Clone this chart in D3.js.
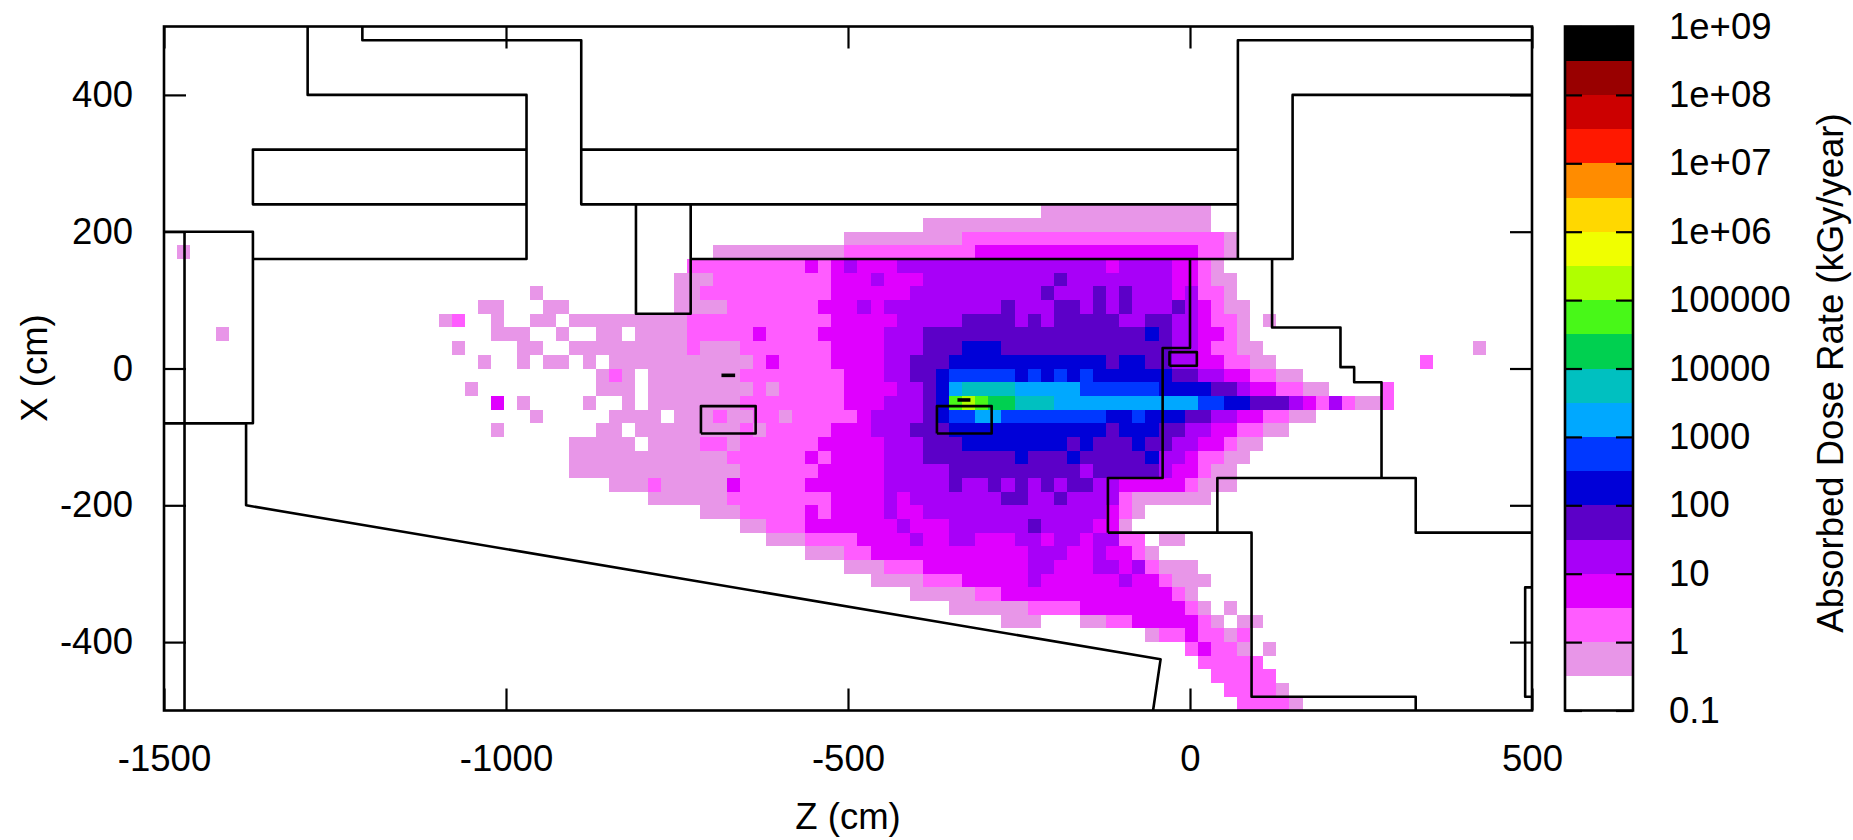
<!DOCTYPE html>
<html>
<head>
<meta charset="utf-8">
<style>
body { margin: 0; background: #fff; }
text { font-family: "Liberation Sans", Arial, sans-serif; font-size: 36.5px; fill: #000; }
</style>
<script src="https://cdn.jsdelivr.net/npm/d3@7"></script>
</head>
<body>
<svg id="chart" width="1853" height="840"></svg>
<script>
// tick labels
var zTicks = [-1500, -1000, -500, 0, 500]
var xTicks = [-400, -200, 0, 200, 400]
var rateTicks = [0.1, 1, 10, 100, 1000, 10000, 100000, 1e6, 1e7, 1e8, 1e9]
var rateLabels = ["0.1", "1", "10", "100", "1000", "10000", "100000", "1e+06", "1e+07", "1e+08", "1e+09"]

// colour bands, bottom to top
var bandEdges = [0.1, 0.316, 1, 3.16, 10, 31.6, 100, 316, 1000, 3160, 10000, 31600, 100000, 316000, 1e6, 3.16e6, 1e7, 3.16e7, 1e8, 3.16e8, 1e9]
var bandColors = ["#ffffff", "#e896e8", "#ff5cff", "#e000ff", "#a800f8", "#5c00c8", "#0000d8", "#0038ff", "#00a8ff", "#00c0c0",
    "#00d050", "#48f818", "#b0ff00", "#f0ff00", "#ffd800", "#ff8c00", "#ff1800", "#cc0000", "#990000", "#000000"]

// mesh
var zFirst = -1500.6
var zStep = 19.14
var xFirst = 500
var xStep = 20

// dose map, one list per mesh row counted from the top: column, band, column, band ...
// a band holds until the next column in the list
var doseRows = {
    13: [67,1, 80,0],
    14: [58,1, 80,0],
    15: [52,1, 61,2, 81,1, 82,0],
    16: [1,1, 2,0, 42,1, 52,2, 62,3, 79,2, 81,1, 82,0],
    17: [40,2, 49,3, 50,2, 51,3, 52,4, 53,3, 56,4, 72,3, 73,4, 77,3, 79,2, 80,1, 81,0],
    18: [39,1, 42,2, 51,3, 54,4, 55,3, 58,4, 68,5, 69,4, 77,3, 79,2, 80,1, 82,0],
    19: [28,1, 29,0, 39,1, 41,2, 51,3, 57,4, 67,5, 68,4, 71,5, 72,4, 73,5, 74,4, 77,3, 78,4, 79,2, 81,1, 82,0],
    20: [24,1, 26,0, 29,1, 31,0, 39,1, 43,2, 50,3, 53,4, 54,3, 55,4, 64,5, 65,4, 68,5, 70,4, 71,5, 72,4, 73,5, 74,4, 77,5, 78,4, 79,3, 80,2, 81,1, 83,0],
    21: [21,1, 22,2, 23,0, 25,1, 26,0, 28,1, 30,0, 31,1, 40,2, 51,3, 56,4, 61,5, 65,4, 66,5, 67,4, 68,5, 73,4, 75,5, 77,4, 79,3, 80,2, 82,1, 83,0, 84,1, 85,0],
    22: [4,1, 5,0, 25,1, 28,0, 30,1, 31,0, 33,1, 35,0, 36,1, 40,2, 45,3, 46,2, 50,3, 55,4, 58,5, 75,6, 76,5, 77,4, 79,3, 81,2, 82,1, 83,0],
    23: [22,1, 23,0, 27,1, 29,0, 31,1, 40,2, 41,1, 44,2, 51,3, 55,4, 58,5, 61,6, 64,5, 77,4, 79,3, 80,2, 82,1, 84,0, 100,1, 101,0],
    24: [24,1, 25,0, 27,1, 28,0, 29,1, 31,0, 32,1, 33,0, 34,1, 45,2, 46,3, 47,2, 51,3, 55,4, 57,5, 60,6, 72,5, 73,6, 75,5, 77,4, 79,3, 81,2, 83,1, 85,0, 96,2, 97,0],
    25: [33,1, 34,2, 35,1, 36,0, 37,1, 44,2, 52,3, 55,4, 57,5, 59,6, 60,7, 65,6, 66,7, 67,6, 68,7, 69,6, 70,7, 71,6, 77,5, 79,4, 81,3, 83,2, 85,1, 87,0],
    26: [23,1, 24,0, 33,1, 36,0, 37,1, 45,2, 46,1, 47,2, 52,3, 56,4, 58,5, 59,6, 60,8, 61,9, 65,8, 70,7, 76,6, 80,5, 82,4, 83,3, 85,2, 87,1, 89,0, 93,2, 94,0],
    27: [25,3, 26,0, 27,1, 28,0, 32,1, 33,0, 35,1, 36,0, 37,1, 44,2, 52,3, 55,4, 58,5, 59,6, 60,11, 61,12, 62,11, 63,10, 65,9, 68,8, 79,7, 81,6, 83,5, 86,4, 87,3, 88,2, 89,4, 90,2, 91,1, 93,2, 94,0],
    28: [28,1, 29,0, 34,1, 38,0, 39,1, 42,2, 43,1, 45,2, 47,1, 48,2, 53,3, 54,4, 58,5, 59,6, 60,7, 62,8, 64,7, 72,6, 74,7, 75,6, 78,5, 80,4, 82,3, 84,2, 86,1, 88,0],
    29: [25,1, 26,0, 33,1, 35,0, 36,1, 44,2, 45,1, 46,2, 51,3, 54,4, 57,5, 60,6, 72,5, 73,6, 76,5, 78,4, 80,3, 82,2, 84,1, 86,0],
    30: [31,1, 36,0, 37,1, 41,2, 43,1, 44,2, 50,3, 55,4, 58,5, 61,6, 69,5, 70,6, 71,5, 74,6, 75,5, 77,4, 79,3, 81,2, 82,1, 84,0],
    31: [31,1, 43,2, 49,3, 50,2, 51,3, 55,4, 58,5, 65,6, 66,5, 69,6, 70,5, 75,6, 76,4, 78,3, 79,2, 81,1, 83,0],
    32: [31,1, 44,2, 50,3, 55,4, 60,5, 70,4, 71,5, 76,4, 77,3, 79,2, 80,1, 82,0],
    33: [34,1, 37,2, 38,1, 43,3, 44,2, 49,3, 55,4, 60,5, 61,4, 63,5, 64,4, 65,5, 66,4, 67,5, 68,4, 69,5, 71,4, 73,3, 78,2, 79,1, 82,0],
    34: [37,1, 43,2, 51,3, 55,4, 56,3, 57,4, 64,5, 66,4, 68,5, 69,4, 73,2, 74,1, 80,0],
    35: [41,1, 44,2, 49,3, 50,2, 51,3, 55,4, 56,3, 58,4, 72,3, 73,2, 74,1, 75,0],
    36: [44,1, 46,2, 49,3, 56,4, 57,3, 60,4, 66,5, 67,4, 71,3, 73,1, 74,0],
    37: [46,1, 49,2, 53,3, 57,4, 58,3, 60,4, 62,3, 65,4, 67,3, 68,4, 70,3, 71,4, 73,2, 75,0, 76,1, 78,0],
    38: [49,1, 52,2, 54,3, 66,4, 69,3, 71,4, 72,3, 74,2, 75,1, 76,0],
    39: [52,1, 55,2, 58,3, 66,4, 68,3, 71,4, 73,3, 74,4, 75,2, 76,1, 79,0],
    40: [54,1, 58,2, 61,3, 66,4, 67,3, 73,4, 74,3, 76,2, 77,1, 80,0],
    41: [57,1, 62,2, 64,3, 77,2, 78,1, 79,0],
    42: [60,1, 66,2, 70,3, 78,2, 79,1, 80,0, 81,1, 82,0],
    43: [64,1, 67,0, 70,1, 72,2, 74,3, 79,2, 80,1, 81,0, 82,1, 84,0],
    44: [75,1, 76,2, 78,3, 79,2, 81,1, 82,2, 83,0],
    45: [78,2, 79,3, 80,2, 82,1, 83,0, 84,1, 85,0],
    46: [79,2, 84,0],
    47: [80,2, 85,0],
    48: [81,2, 85,1, 86,0],
    49: [82,2, 86,1, 87,0]
}

// geometry outlines, [z, x] in cm
var wallPaths = [
    [[-1290,500],[-1290,400],[-970,400],[-970,160],[-1370,160]],
    [[-970,320],[-1370,320],[-1370,240],[-970,240]],
    [[-1500,200],[-1370,200],[-1370,-80],[-1500,-80]],
    [[-1470,200],[-1470,-500]],
    [[-1500,-80],[-1380,-80],[-1380,-200],[-43,-425],[-54,-500]],
    [[-1210,500],[-1210,480],[-890,480],[-890,240],[70,240]],
    [[-890,320],[70,320]],
    [[500,480],[70,480],[70,160]],
    [[500,400],[150,400],[150,160],[-730,160]],
    [[-810,240],[-810,80],[-730,80],[-730,240]],
    [[120,160],[120,60],[220,60],[220,2],[240,2],[240,-20],[280,-20],[280,-160]],
    [[500,-240],[330,-240],[330,-160],[40,-160],[40,-240]],
    [[-120,-240],[90,-240],[90,-480],[330,-480],[330,-500]],
    [[0,160],[0,30],[-40,30],[-40,-160],[-120,-160],[-120,-240]],
    [[-30,4],[10,4],[10,24],[-30,24],[-30,4]],
    [[-715,-95],[-635,-95],[-635,-55],[-715,-55],[-715,-95]],
    [[-370,-95],[-290,-95],[-290,-55],[-370,-55],[-370,-95]],
    [[500,-320],[490,-320],[490,-480],[500,-480]]
]
var thickPaths = [
    [[-685,-10],[-665,-10]],
    [[-340,-46],[-321,-46]]
]

var plotLeft = 164, plotRight = 1532, plotTop = 26.5, plotBottom = 710.5
var barLeft = 1565, barRight = 1633

var svg = d3.select("#chart")
var zScale = d3.scaleLinear().domain([-1500, 500]).range([plotLeft, plotRight])
var xScale = d3.scaleLinear().domain([500, -500]).range([plotTop, plotBottom])
var rateScale = d3.scaleLog().domain([0.1, 1e9]).range([plotBottom, plotTop])
var bandColor = d3.scaleOrdinal().domain(d3.range(bandColors.length)).range(bandColors)

// expand the runs into cells
var cells = []
Object.keys(doseRows).forEach(function(rowKey) {
    var row = +rowKey
    var runs = doseRows[rowKey]
    for (var i = 0; i < runs.length - 2; i += 2) {
        if (runs[i + 1] == 0) continue
        for (var col = runs[i]; col < runs[i + 2]; col++) {
            cells.push({col: col, row: row, band: runs[i + 1]})
        }
    }
})

svg.append("clipPath").attr("id", "plotClip").append("rect")
    .attr("x", plotLeft).attr("y", plotTop)
    .attr("width", plotRight - plotLeft).attr("height", plotBottom - plotTop)

var plot = svg.append("g").attr("clip-path", "url(#plotClip)")

plot.selectAll(".cell")
    .data(cells)
    .enter().append("rect")
    .attr("class", "cell")
    .attr("x", function(d) { return zScale(zFirst + d.col * zStep) })
    .attr("y", function(d) { return xScale(xFirst - d.row * xStep) })
    .attr("width", zScale(zStep) - zScale(0))
    .attr("height", xScale(0) - xScale(xStep))
    .attr("fill", function(d) { return bandColor(d.band) })
    .attr("shape-rendering", "crispEdges")

var wallLine = d3.line()
    .x(function(d) { return zScale(d[0]) })
    .y(function(d) { return xScale(d[1]) })

plot.selectAll(".wall")
    .data(wallPaths)
    .enter().append("path")
    .attr("class", "wall")
    .attr("d", wallLine)
    .attr("fill", "none")
    .attr("stroke", "#000")
    .attr("stroke-width", 2.6)
    .attr("stroke-linejoin", "round")

plot.selectAll(".thick")
    .data(thickPaths)
    .enter().append("path")
    .attr("class", "thick")
    .attr("d", wallLine)
    .attr("fill", "none")
    .attr("stroke", "#000")
    .attr("stroke-width", 3.6)

// axes, ticks point inwards and are mirrored on the far sides
function styleAxis(g) {
    g.select(".domain").remove()
    g.selectAll("line").attr("stroke", "#000").attr("stroke-width", 2.2)
    g.selectAll("text").attr("fill", "#000")
    g.attr("font-family", null).attr("font-size", null)
}

// plain hyphen and no thousands separator on the labels
function plainLabel(d) { return String(d) }

svg.append("g")
    .attr("transform", "translate(0," + plotBottom + ")")
    .call(d3.axisBottom(zScale).tickValues(zTicks).tickSizeInner(-22).tickSizeOuter(0).tickPadding(35).tickFormat(plainLabel))
    .call(styleAxis)
svg.append("g")
    .attr("transform", "translate(0," + plotTop + ")")
    .call(d3.axisTop(zScale).tickValues(zTicks).tickSizeInner(-22).tickSizeOuter(0).tickFormat(""))
    .call(styleAxis)
svg.append("g")
    .attr("transform", "translate(" + plotLeft + ",0)")
    .call(d3.axisLeft(xScale).tickValues(xTicks).tickSizeInner(-22).tickSizeOuter(0).tickPadding(31).tickFormat(plainLabel))
    .call(styleAxis)
svg.append("g")
    .attr("transform", "translate(" + plotRight + ",0)")
    .call(d3.axisRight(xScale).tickValues(xTicks).tickSizeInner(-22).tickSizeOuter(0).tickFormat(""))
    .call(styleAxis)

svg.append("rect")
    .attr("x", plotLeft).attr("y", plotTop)
    .attr("width", plotRight - plotLeft).attr("height", plotBottom - plotTop)
    .attr("fill", "none").attr("stroke", "#000").attr("stroke-width", 2.6)

// colour bar
svg.selectAll(".band")
    .data(bandColors)
    .enter().append("rect")
    .attr("class", "band")
    .attr("x", barLeft)
    .attr("width", barRight - barLeft)
    .attr("y", function(d, i) { return rateScale(bandEdges[i + 1]) })
    .attr("height", function(d, i) { return rateScale(bandEdges[i]) - rateScale(bandEdges[i + 1]) })
    .attr("fill", function(d) { return d })
    .attr("shape-rendering", "crispEdges")

svg.append("g")
    .attr("transform", "translate(" + barLeft + ",0)")
    .call(d3.axisLeft(rateScale).tickValues(rateTicks).tickSizeInner(-17).tickSizeOuter(0).tickFormat(""))
    .call(styleAxis)
svg.append("g")
    .attr("transform", "translate(" + barRight + ",0)")
    .call(d3.axisRight(rateScale).tickValues(rateTicks).tickSizeInner(-17).tickSizeOuter(0).tickPadding(36)
        .tickFormat(function(d, i) { return rateLabels[i] }))
    .call(styleAxis)

svg.append("rect")
    .attr("x", barLeft).attr("y", plotTop)
    .attr("width", barRight - barLeft).attr("height", plotBottom - plotTop)
    .attr("fill", "none").attr("stroke", "#000").attr("stroke-width", 2.6)

// axis titles
svg.append("text").attr("x", 848).attr("y", 829).attr("text-anchor", "middle").text("Z (cm)")
svg.append("text").attr("transform", "translate(47,368) rotate(-90)").attr("text-anchor", "middle").text("X (cm)")
svg.append("text").attr("transform", "translate(1843,373) rotate(-90)").attr("text-anchor", "middle").text("Absorbed Dose Rate (kGy/year)")
</script>
</body>
</html>
